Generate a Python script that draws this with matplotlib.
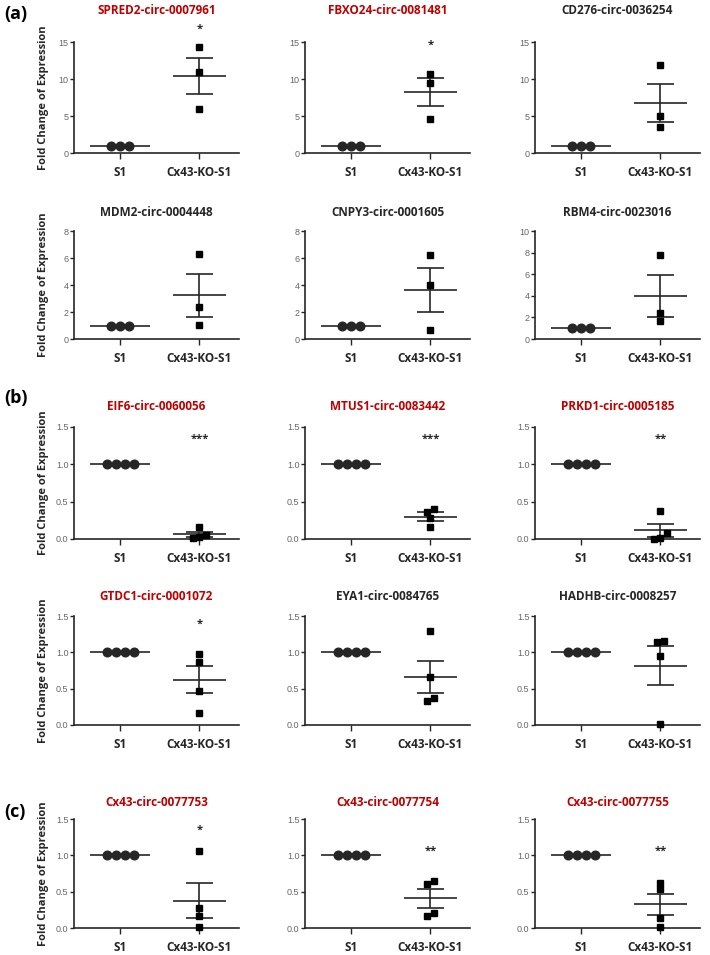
import matplotlib.pyplot as plt
import numpy as np

plt.rcParams['font.family'] = ['Open Sans', 'DejaVu Sans']

# Data
titles = ['SPRED2-circ-0007961', 'FBXO24-circ-0081481', 'CD276-circ-0036254',
          'MDM2-circ-0004448', 'CNPY3-circ-0001605', 'RBM4-circ-0023016',
          'EIF6-circ-0060056', 'MTUS1-circ-0083442', 'PRKD1-circ-0005185',
          'GTDC1-circ-0001072', 'EYA1-circ-0084765', 'HADHB-circ-0008257',
          'Cx43-circ-0077753', 'Cx43-circ-0077754', 'Cx43-circ-0077755']
highlighted = [True, True, False,
               False, False, False,
               True, True, True,
               True, False, False,
               True, True, True]
groups = ['S1', 'Cx43-KO-S1']

s1_values = [[1, 1, 1]] * 6 + [[1, 1, 1, 1]] * 9
ko_values = [
    [14.28, 10.9, 5.99],
    [10.63, 9.46, 4.6],
    [11.85, 5.05, 3.51],
    [6.3, 2.37, 1.01],
    [6.25, 3.98, 0.69],
    [7.8, 2.43, 1.69],
    [0.16, 0.05, 0.03, 0.01],
    [0.405, 0.364, 0.276, 0.16],
    [0.377, 0.084, 0.01, 0.005],
    [0.977, 0.865, 0.474, 0.172],
    [1.29, 0.656, 0.367, 0.33],
    [1.15, 1.14, 0.944, 0.02],
    [1.064, 0.275, 0.16, 0.014],
    [0.642, 0.606, 0.206, 0.17],
    [0.62, 0.53, 0.133, 0.014],
]
y_max = [15, 15, 15, 8, 8, 10] + [1.5] * 9
y_step = [5, 5, 5, 2, 2, 2] + [0.5] * 9
stars = ['*', '*', '', '', '', '', '***', '***', '**', '*', '', '', '*', '**', '**']
star_y = [16.7, 14.6, 0, 0, 0, 0, 1.33, 1.33, 1.33, 1.39, 0, 0, 1.35, 1.05, 1.05]

W, H = 710, 955
fig = plt.figure(figsize=(W / 100, H / 100), dpi=100)

col_left = [74, 305, 535]
ax_w = 165
rows = [(42, 153), (231, 339), (427, 539), (616, 725), (819, 928)]
title_y = [10, 212, 407, 597, 802]
dark = '#262626'


def swarm(vals, ymax, gap, thresh=0.05):
    # spread points that sit close together, GraphPad style
    vals = np.asarray(vals, dtype=float)
    order = np.argsort(vals)
    offs = np.zeros(len(vals))
    clusters = [[order[0]]]
    for i in order[1:]:
        if (vals[i] - vals[clusters[-1][-1]]) / ymax < thresh:
            clusters[-1].append(i)
        else:
            clusters.append([i])
    for c in clusters:
        n = len(c)
        for k, idx in enumerate(c):
            offs[idx] = (k - (n - 1) / 2) * gap
    return offs


for i in range(15):
    r, c = divmod(i, 3)
    top, bot = rows[r]
    ax = fig.add_axes([col_left[c] / W, 1 - bot / H, ax_w / W, (bot - top) / H])

    s1 = np.array(s1_values[i], dtype=float)
    ko = np.array(ko_values[i], dtype=float)

    # S1 group
    ax.plot(0 + swarm(s1, y_max[i], 0.115), s1, 'o', ms=6.2, color=dark,
            clip_on=False, zorder=3)
    ax.hlines(s1.mean(), -0.38, 0.38, color=dark, lw=1.2)

    # KO group with mean +/- SEM
    m = ko.mean()
    sem = ko.std(ddof=1) / np.sqrt(len(ko))
    ax.plot(1 + swarm(ko, y_max[i], 0.085), ko, 's', ms=3.8, color='black',
            clip_on=False, zorder=3)
    ax.hlines(m, 1 - 0.33, 1 + 0.33, color=dark, lw=1.2)
    ax.vlines(1, m - sem, m + sem, color=dark, lw=1.2)
    ax.hlines([m - sem, m + sem], 1 - 0.17, 1 + 0.17, color=dark, lw=1.2)

    if stars[i]:
        ax.text(1, star_y[i], stars[i], ha='center', va='center',
                fontsize=8, fontweight='bold', color=dark)

    ax.set_xlim(-0.583, 1.5)
    ax.set_ylim(0, y_max[i])
    ax.set_yticks(np.arange(0, y_max[i] + 1e-9, y_step[i]))
    if y_step[i] < 1:
        ax.set_yticklabels([f'{v:.1f}' for v in ax.get_yticks()])
    ax.set_xticks([0, 1])
    ax.set_xticklabels(groups, fontsize=8.5, fontweight='bold', color=dark)

    for s in ['top', 'right']:
        ax.spines[s].set_visible(False)
    for s in ['left', 'bottom']:
        ax.spines[s].set_linewidth(1.2)
        ax.spines[s].set_color(dark)
    ax.tick_params(axis='y', length=3, width=1, labelsize=6.5, labelcolor='#666666',
                   pad=1, color=dark)
    ax.tick_params(axis='x', length=4, width=1, pad=5, color=dark)
    for lab in ax.get_yticklabels():
        lab.set_family('Liberation Sans')

    fig.text((col_left[c] + ax_w / 2) / W, 1 - title_y[r] / H, titles[i],
             ha='center', va='center', fontsize=8.5, fontweight='bold',
             color='#C00000' if highlighted[i] else dark)

    if c == 0:
        ax.set_ylabel('Fold Change of Expression', fontsize=8, fontweight='bold',
                      color=dark)
        ax.yaxis.set_label_coords(-(col_left[0] - 49) / ax_w, 0.5)

fig.text(4 / W, 1 - 14 / H, '(a)', fontsize=13, fontweight='bold', va='center')
fig.text(4 / W, 1 - 398 / H, '(b)', fontsize=13, fontweight='bold', va='center')
fig.text(4 / W, 1 - 812 / H, '(c)', fontsize=13, fontweight='bold', va='center')

plt.savefig('out.png', dpi=100)
